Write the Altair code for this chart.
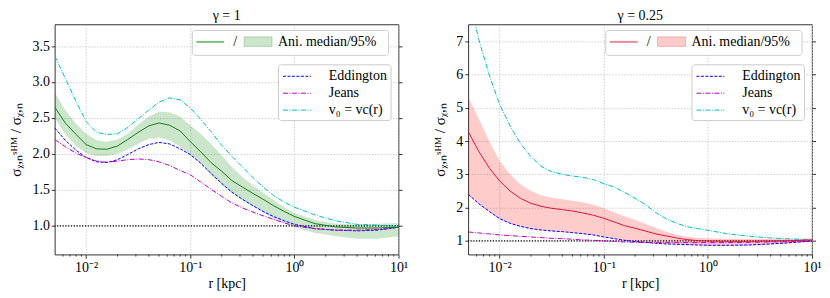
import altair as alt
import pandas as pd

# ---------------- data ----------------
r_kpc = [0.005, 0.0063, 0.008, 0.01, 0.0126, 0.0158, 0.02, 0.025, 0.0316, 0.04,
         0.05, 0.063, 0.08, 0.1, 0.126, 0.158, 0.2, 0.25, 0.316, 0.4,
         0.5, 0.63, 0.8, 1.0, 1.58, 2.5, 4.0, 6.3, 10.0]

# gamma = 1
g1_median = [2.65, 2.43, 2.27, 2.13, 2.07, 2.065, 2.11, 2.20, 2.30, 2.39,
             2.43, 2.40, 2.32, 2.17, 2.03, 1.88, 1.76, 1.63, 1.54, 1.45,
             1.37, 1.28, 1.20, 1.13, 1.03, 0.985, 0.97, 0.97, 0.98]
g1_hi = [2.85, 2.61, 2.42, 2.28, 2.19, 2.17, 2.20, 2.28, 2.41, 2.52,
         2.59, 2.58, 2.52, 2.40, 2.28, 2.14, 1.98, 1.82, 1.68, 1.56,
         1.46, 1.36, 1.26, 1.18, 1.08, 1.03, 1.02, 1.03, 1.04]
g1_lo = [2.50, 2.27, 2.11, 2.01, 1.97, 1.97, 2.00, 2.06, 2.14, 2.21,
         2.23, 2.19, 2.10, 1.98, 1.87, 1.71, 1.57, 1.46, 1.36, 1.27,
         1.19, 1.10, 1.04, 0.98, 0.90, 0.855, 0.82, 0.82, 0.855]
g1_edd = [2.36, 2.19, 2.05, 1.95, 1.89, 1.88, 1.92, 1.99, 2.07, 2.13,
          2.16, 2.14, 2.07, 1.99, 1.87, 1.73, 1.59, 1.47, 1.37, 1.28,
          1.20, 1.13, 1.07, 1.02, 0.96, 0.94, 0.93, 0.94, 0.98]
g1_jeans = [2.20, 2.10, 2.01, 1.95, 1.90, 1.885, 1.90, 1.92, 1.93, 1.92,
            1.89, 1.84, 1.77, 1.71, 1.61, 1.51, 1.41, 1.32, 1.25, 1.19,
            1.14, 1.09, 1.04, 1.00, 0.96, 0.94, 0.94, 0.95, 0.98]
g1_vc = [3.36, 3.05, 2.73, 2.45, 2.30, 2.27, 2.28, 2.37, 2.49, 2.61,
         2.72, 2.78, 2.75, 2.64, 2.48, 2.31, 2.12, 1.97, 1.82, 1.67,
         1.54, 1.42, 1.33, 1.26, 1.15, 1.07, 1.02, 1.01, 0.99]

# gamma = 0.25
g2_median = [4.28, 3.69, 3.18, 2.80, 2.50, 2.28, 2.13, 2.04, 1.98, 1.94,
             1.90, 1.84, 1.77, 1.68, 1.57, 1.46, 1.38, 1.30, 1.21, 1.15,
             1.09, 1.04, 1.01, 1.00, 0.99, 0.99, 1.00, 1.01, 1.03]
g2_hi = [5.30, 4.68, 3.98, 3.40, 3.00, 2.70, 2.50, 2.37, 2.30, 2.25,
         2.21, 2.16, 2.09, 1.98, 1.86, 1.74, 1.63, 1.52, 1.39, 1.28,
         1.19, 1.13, 1.10, 1.08, 1.07, 1.07, 1.07, 1.07, 1.08]
g2_lo = [2.38, 2.10, 1.86, 1.65, 1.52, 1.43, 1.36, 1.32, 1.29, 1.27,
         1.245, 1.21, 1.17, 1.12, 1.07, 1.02, 0.98, 0.95, 0.93, 0.91,
         0.89, 0.88, 0.86, 0.85, 0.85, 0.86, 0.89, 0.93, 0.98]
g2_edd = [2.40, 2.12, 1.88, 1.67, 1.53, 1.44, 1.37, 1.33, 1.30, 1.28,
          1.25, 1.22, 1.18, 1.12, 1.07, 1.02, 0.98, 0.96, 0.93, 0.91,
          0.90, 0.89, 0.88, 0.87, 0.87, 0.88, 0.91, 0.95, 1.00]
g2_jeans = [1.27, 1.24, 1.21, 1.18, 1.16, 1.14, 1.12, 1.10, 1.08, 1.07,
            1.05, 1.03, 1.02, 1.00, 0.99, 0.97, 0.96, 0.95, 0.95, 0.95,
            0.95, 0.95, 0.95, 0.95, 0.95, 0.96, 0.97, 0.98, 1.00]
g2_vc = [8.4, 7.05, 5.95, 5.10, 4.45, 3.93, 3.53, 3.24, 3.08, 3.00,
         2.95, 2.91, 2.84, 2.72, 2.62, 2.46, 2.28, 2.10, 1.85, 1.66,
         1.53, 1.43, 1.37, 1.32, 1.21, 1.14, 1.09, 1.06, 1.03]

series_names = ["Eddington", "Jeans", "v₀ = vc(r)"]
series_colors = ["#0000ff", "#bf00bf", "#00bfbf"]
series_dashes = [[3, 1.5], [5, 1.5, 1, 1.5], [5, 1.5, 1, 1.5]]

x_major = [0.01, 0.1, 1, 10]
x_minor = [0.006, 0.007, 0.008, 0.009, 0.02, 0.03, 0.04, 0.05, 0.06, 0.07, 0.08, 0.09,
           0.2, 0.3, 0.4, 0.5, 0.6, 0.7, 0.8, 0.9, 2, 3, 4, 5, 6, 7, 8, 9]
y1_ticks = [1.0, 1.5, 2.0, 2.5, 3.0, 3.5]
y2_ticks = [1, 2, 3, 4, 5, 6, 7]

FONT = "Liberation Serif"
FS = 14
W, H = 345, 231
Y_TITLE = "σᵪ,ₙˢᴴᴹ / σᵪ,ₙ"
X_LABEL_EXPR = ("datum.value == 0.01 ? '10⁻²' : datum.value == 0.1 ? '10⁻¹' : "
                "datum.value == 1 ? '10⁰' : datum.value == 10 ? '10¹' : ''")


def panel(title, med, lo, hi, edd, jeans, vc, ydom, yticks, yfmt,
          line_col, band_col, leg_line_col):
    df = pd.DataFrame({"r": r_kpc, "med": med, "lo": lo, "hi": hi})
    long = pd.DataFrame({
        "r": r_kpc * 3,
        "value": edd + jeans + vc,
        "series": [s for s in series_names for _ in r_kpc],
    })
    one = pd.DataFrame({"y": [1.0]})
    minor = pd.DataFrame({"r": x_minor})
    dummy = pd.DataFrame({"k": [0]})

    xs = alt.Scale(type="log", domain=[0.005, 10], nice=False)
    ys = alt.Scale(domain=ydom, nice=False, zero=False)

    x_axis = alt.Axis(values=x_major, labelExpr=X_LABEL_EXPR, title="r [kpc]",
                      tickSize=3.5, labelFlush=False, labelOverlap=False,
                      labelPadding=2, titlePadding=3)
    X = alt.X("r:Q", scale=xs, axis=x_axis)
    y_axis = alt.Axis(values=yticks, format=yfmt, title=Y_TITLE, tickSize=3.5,
                      labelPadding=2, titlePadding=8, titleFontSize=15)
    y_right = alt.Axis(orient="right", values=yticks, labels=False, grid=False,
                       tickSize=3.5, title=None, domain=False)

    band = alt.Chart(df).mark_area(color=band_col, opacity=0.2, clip=True).encode(
        x=X,
        y=alt.Y("lo:Q", scale=ys, axis=y_axis),
        y2="hi:Q",
    )
    minor_ticks = alt.Chart(minor).mark_rule(color="black", strokeWidth=0.7).encode(
        x=X, y=alt.value(H), y2=alt.value(H + 2),
    )
    hline = alt.Chart(one).mark_rule(color="black", strokeDash=[1.2, 1.6], strokeWidth=1.2).encode(
        y=alt.Y("y:Q", scale=ys, axis=y_right)
    )
    leg = alt.Legend(
        orient="none", legendX=W - 121, legendY=40, title=None,
        symbolType="M-1.65,0H1.65", symbolSize=289, symbolStrokeWidth=1,
        symbolOffset=7, labelOffset=23, rowPadding=1, padding=3,
        labelFont=FONT, labelFontSize=FS, labelColor="black",
        fillColor="white", strokeColor="#cccccc", cornerRadius=3,
    )
    lines = alt.Chart(long).mark_line(strokeWidth=1, clip=True).encode(
        x=X,
        y=alt.Y("value:Q", scale=ys, axis=None),
        color=alt.Color("series:N", scale=alt.Scale(domain=series_names, range=series_colors), legend=leg),
        strokeDash=alt.StrokeDash("series:N", scale=alt.Scale(domain=series_names, range=series_dashes), legend=leg),
    )
    median = alt.Chart(df).mark_line(color=line_col, strokeWidth=1, clip=True).encode(
        x=X,
        y=alt.Y("med:Q", scale=ys, axis=None),
    )

    # composite legend "— / ▭ Ani. median/95%"
    box = alt.Chart(dummy).mark_rect(fill="white", fillOpacity=0.85, stroke="#cccccc",
                                     strokeWidth=1, cornerRadius=3).encode(
        x=alt.value(W - 207), x2=alt.value(W - 10), y=alt.value(6), y2=alt.value(31))
    lline = alt.Chart(dummy).mark_rule(color=leg_line_col, strokeWidth=2).encode(
        x=alt.value(W - 203), x2=alt.value(W - 175), y=alt.value(17.5))
    slash = alt.Chart(dummy).mark_text(text="/", font=FONT, fontSize=FS, color="black",
                                       align="center", baseline="middle").encode(
        x=alt.value(W - 164), y=alt.value(17.5))
    swatch = alt.Chart(dummy).mark_rect(fill=band_col, fillOpacity=0.2, stroke=band_col,
                                        strokeOpacity=0.25).encode(
        x=alt.value(W - 155), x2=alt.value(W - 127), y=alt.value(12.5), y2=alt.value(22))
    ltext = alt.Chart(dummy).mark_text(text="Ani. median/95%", font=FONT, fontSize=FS,
                                       color="black", align="left", baseline="middle").encode(
        x=alt.value(W - 121), y=alt.value(18))

    return alt.layer(band, minor_ticks, hline, lines, median, box, lline, slash, swatch, ltext).resolve_axis(
        y="independent"
    ).properties(width=W, height=H, title=alt.TitleParams(title, font=FONT, fontSize=FS,
                                                             fontWeight="normal", offset=1))


left = panel("γ = 1", g1_median, g1_lo, g1_hi, g1_edd, g1_jeans, g1_vc,
             [0.6, 3.8], y1_ticks, ".1f", "#148014", "#008000", "#7fbf7f")
right = panel("γ = 0.25", g2_median, g2_lo, g2_hi, g2_edd, g2_jeans, g2_vc,
              [0.59, 7.5], y2_ticks, "d", "#dc143c", "#ff0000", "#ed899d")

chart = alt.hconcat(left, right, spacing=24).resolve_scale(
    color="independent", strokeDash="independent"
).resolve_legend(color="independent", strokeDash="independent").properties(
    padding={"left": 0, "top": 0, "right": 0, "bottom": 0}
).configure_view(stroke="black", strokeWidth=0.8).configure_axis(
    labelFont=FONT, labelFontSize=FS, labelColor="black",
    titleFont=FONT, titleFontSize=FS, titleFontWeight="normal", titleColor="black",
    tickColor="black", tickWidth=0.8, domain=False,
    gridColor="#c4c4c4", gridDash=[1.5, 1.5], gridWidth=0.8,
)

chart.save("out.html", embed_options={"renderer": "svg", "actions": False})
